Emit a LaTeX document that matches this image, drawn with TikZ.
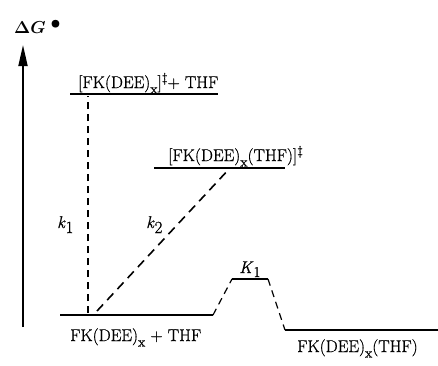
\documentclass[tikz,border=0pt]{standalone}
\usepackage[no-math]{fontspec}
\setmainfont{Latin Modern Roman}[FakeBold=0.7]
\usetikzlibrary{arrows.meta}
\newcommand{\subx}{\raisebox{-5.5pt}{\fontsize{14}{14}\selectfont x}}
\newcommand{\dg}{\raisebox{6pt}{\fontsize{13}{13}\selectfont\textdaggerdbl}}
\begin{document}
\begin{tikzpicture}[x=1pt,y=-1pt,
  level/.style={line width=1.6pt},
  path/.style={line width=1.6pt,dash pattern=on 9pt off 6pt},
  thinpath/.style={line width=1.2pt,dash pattern=on 7pt off 5pt},
  lbl/.style={font=\fontsize{17}{20}\selectfont,inner sep=0pt}]
\useasboundingbox (0,0) rectangle (438,365);
% energy axis
\coordinate (ax0) at (23,327);
\coordinate (ax1) at (23,45);
\draw[line width=1.8pt,-{Triangle[length=21pt,width=9pt]}] (ax0) -- (ax1);
\node[lbl,anchor=base west] (dg) at (14,33) {\fontsize{16}{18}\selectfont{\boldmath$\Delta G$}\hspace{5pt}\raisebox{5pt}{\fontsize{18}{18}\selectfont\boldmath$\bullet$}};
% energy levels
\coordinate (g0) at (60,315);  \coordinate (g1) at (213,315);
\coordinate (t0) at (70,94);   \coordinate (t1) at (218,94);
\coordinate (u0) at (154,168); \coordinate (u1) at (285,168);
\coordinate (p0) at (232,279); \coordinate (p1) at (268,279);
\coordinate (f0) at (285,330); \coordinate (f1) at (440,330);
\draw[level] (g0) -- (g1);
\draw[level] (t0) -- (t1);
\draw[level] (u0) -- (u1);
\draw[level] (p0) -- (p1);
\draw[level] (f0) -- (f1);
% reaction paths
\coordinate (k1a) at (88,313);  \coordinate (k1b) at (88,96);
\coordinate (k2a) at (97,311);  \coordinate (k2b) at (230,168);
\draw[thinpath] (k1a) -- (k1b);
\draw[path] (k2a) -- (k2b);
\draw[thinpath] (g1) -- (p0);
\draw[thinpath] (p1) -- (f0);
% labels
\node[lbl,anchor=base west] (lt) at (78,88) {[FK(DEE)\subx]\dg+ THF};
\node[lbl,anchor=base west] (lu) at (168,161) {[FK(DEE)\subx(THF)]\dg};
\node[lbl,anchor=base west] (lg) at (70,341) {FK(DEE)\subx\ + THF};
\node[lbl,anchor=base west] (lf) at (297,352) {FK(DEE)\subx(THF)};
\node[lbl,anchor=base west] (k1) at (57,228) {\textit{k}\raisebox{-5pt}{1}};
\node[lbl,anchor=base west] (k2) at (146,228) {\textit{k}\raisebox{-5pt}{2}};
\node[lbl,anchor=base west] (K1) at (239,273) {\textit{K}\raisebox{-4pt}{\fontsize{15}{15}\selectfont 1}};
\end{tikzpicture}
\end{document}
